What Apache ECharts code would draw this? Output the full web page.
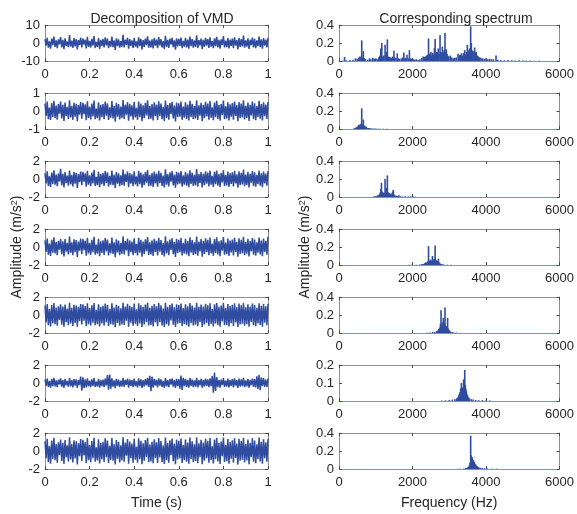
<!DOCTYPE html>
<html>
<head>
<meta charset="utf-8">
<title>VMD decomposition and spectra</title>
<script src="https://cdn.jsdelivr.net/npm/echarts@6/dist/echarts.min.js"></script>
<style>
  html, body { margin: 0; padding: 0; background: #ffffff; }
  #chart { width: 577px; height: 514px; }
</style>
</head>
<body>
<div id="chart"></div>
<script>
// ---- Time-domain samples (1 s record, 201 samples) ----
const sampleCount = 201;
const timeStamps = Array.from({ length: sampleCount }, (_, i) => i / (sampleCount - 1));

const signalRaw = [
  2.1,-1.4,2.9,-2.6,0.9,-3.1,2.4,-1.2,3.6,-2.2,1.5,-2.8,2.0,-0.7,3.3,-2.5,1.8,-3.4,2.6,-1.6,
  0.8,-2.3,4.4,-2.0,1.3,-2.7,2.8,-1.9,2.2,-3.6,1.6,-1.1,3.0,-2.4,2.5,-0.9,1.9,-3.0,3.4,-2.1,
  1.2,-2.6,2.3,-1.5,3.9,-2.8,0.6,-2.2,2.7,-3.3,1.7,-1.8,2.1,-2.5,3.2,-1.3,2.4,-2.9,1.0,-2.0,
  3.5,-2.3,1.4,-3.8,2.6,-1.7,2.0,-2.6,1.1,-2.1,4.6,-2.4,1.8,-1.0,2.9,-3.2,2.2,-1.6,1.5,-2.7,
  2.8,-2.0,0.9,-2.9,3.1,-1.8,2.3,-3.5,1.6,-2.2,2.5,-1.2,3.7,-2.6,1.3,-2.4,2.0,-3.0,2.7,-1.5,
  1.9,-2.8,3.3,-1.4,2.2,-2.5,1.1,-3.3,4.0,-2.1,1.7,-2.7,2.4,-0.8,2.9,-2.3,1.5,-3.7,2.6,-1.9,
  2.3,-1.6,3.0,-2.9,1.2,-2.0,2.8,-2.4,1.9,-3.1,3.6,-1.7,2.1,-2.6,1.4,-2.2,4.3,-2.8,1.6,-1.3,
  2.5,-3.4,1.8,-2.1,2.9,-1.5,2.2,-2.7,3.2,-2.0,1.0,-2.9,2.6,-1.8,3.4,-2.4,1.7,-3.2,2.0,-1.1,
  3.8,-2.5,1.3,-2.3,2.7,-3.0,1.9,-1.6,2.4,-2.8,3.1,-1.4,1.6,-3.5,2.8,-2.2,2.1,-1.9,4.1,-2.6,
  1.5,-2.0,2.6,-3.3,1.8,-1.2,3.0,-2.5,2.3,-2.9,1.4,-1.7,3.5,-2.3,2.0,-3.1,2.7,-1.5,1.9,-2.4,
  2.9
];
const imf1 = [
  0.41,-0.28,0.52,-0.46,0.19,-0.50,0.44,-0.33,0.57,-0.39,0.30,-0.48,0.38,-0.15,0.53,-0.42,0.35,-0.55,0.47,-0.27,
  0.22,-0.44,0.60,-0.36,0.29,-0.49,0.45,-0.31,0.40,-0.56,0.33,-0.21,0.50,-0.43,0.46,-0.18,0.37,-0.51,0.54,-0.38,
  0.25,-0.47,0.42,-0.30,0.58,-0.45,0.14,-0.40,0.48,-0.53,0.34,-0.35,0.39,-0.46,0.52,-0.26,0.43,-0.50,0.21,-0.37,
  0.55,-0.41,0.28,-0.59,0.46,-0.32,0.38,-0.47,0.24,-0.39,0.61,-0.44,0.35,-0.20,0.49,-0.54,0.40,-0.30,0.31,-0.48,
  0.50,-0.36,0.18,-0.49,0.53,-0.34,0.42,-0.57,0.32,-0.40,0.45,-0.25,0.59,-0.46,0.27,-0.43,0.39,-0.52,0.48,-0.29,
  0.36,-0.50,0.54,-0.27,0.41,-0.45,0.23,-0.55,0.58,-0.38,0.33,-0.48,0.44,-0.17,0.51,-0.42,0.30,-0.58,0.47,-0.35,
  0.43,-0.31,0.52,-0.49,0.24,-0.37,0.48,-0.44,0.36,-0.53,0.57,-0.33,0.40,-0.46,0.28,-0.41,0.60,-0.50,0.32,-0.26,
  0.46,-0.56,0.35,-0.40,0.51,-0.30,0.42,-0.48,0.55,-0.37,0.20,-0.51,0.47,-0.34,0.56,-0.44,0.33,-0.54,0.39,-0.22,
  0.58,-0.45,0.26,-0.42,0.49,-0.52,0.37,-0.32,0.44,-0.49,0.53,-0.28,0.31,-0.57,0.50,-0.40,0.41,-0.36,0.59,-0.47,
  0.29,-0.39,0.47,-0.55,0.34,-0.24,0.52,-0.45,0.43,-0.51,0.27,-0.33,0.56,-0.43,0.38,-0.53,0.48,-0.29,0.36,-0.44,
  0.50
];
const imf2 = [
  0.66,-0.48,0.85,-0.77,0.31,-0.88,0.72,-0.55,0.97,-0.63,0.49,-0.81,0.60,-0.26,1.12,-0.71,0.57,-0.93,0.78,-0.45,
  0.38,-0.74,0.95,-0.59,0.47,-0.82,0.76,-0.52,0.68,-1.00,0.54,-0.35,0.83,-0.70,0.79,-0.30,0.62,-0.86,0.91,-0.64,
  0.42,-0.79,0.70,-0.50,1.02,-0.76,0.24,-0.67,0.81,-0.90,0.56,-0.58,0.65,-0.78,0.89,-0.44,0.73,-0.84,0.36,-0.62,
  0.94,-0.69,0.46,-0.99,0.77,-0.53,0.63,-0.80,0.40,-0.66,1.05,-0.75,0.58,-0.33,0.84,-0.92,0.67,-0.51,0.52,-0.81,
  0.86,-0.61,0.30,-0.83,0.90,-0.57,0.71,-0.96,0.53,-0.68,0.76,-0.42,0.99,-0.79,0.45,-0.73,0.65,-0.88,0.82,-0.49,
  0.61,-0.85,0.92,-0.46,0.69,-0.77,0.39,-0.94,1.08,-0.64,0.55,-0.82,0.74,-0.29,0.87,-0.71,0.50,-0.98,0.80,-0.59,
  0.72,-0.52,0.88,-0.84,0.41,-0.63,0.81,-0.75,0.60,-0.90,0.96,-0.56,0.68,-0.78,0.47,-0.70,1.10,-0.85,0.54,-0.44,
  0.78,-0.95,0.59,-0.68,0.86,-0.51,0.71,-0.82,0.93,-0.62,0.34,-0.87,0.79,-0.58,0.95,-0.74,0.56,-0.91,0.66,-0.37,
  0.98,-0.76,0.44,-0.72,0.83,-0.89,0.63,-0.54,0.75,-0.83,0.90,-0.48,0.52,-0.97,0.85,-0.68,0.70,-0.61,1.04,-0.80,
  0.49,-0.66,0.80,-0.93,0.58,-0.41,0.88,-0.76,0.73,-0.86,0.46,-0.56,0.94,-0.73,0.64,-0.90,0.82,-0.50,0.61,-0.75,
  0.87
];
const imf3 = [
  0.74,-0.56,0.95,-0.86,0.38,-0.99,0.81,-0.62,1.08,-0.71,0.55,-0.91,0.68,-0.30,0.88,-0.80,0.64,-1.05,0.87,-0.51,
  0.43,-0.83,1.15,-0.66,0.53,-0.92,0.85,-0.58,0.76,-1.10,0.61,-0.40,0.93,-0.78,0.89,-0.34,0.70,-0.97,1.02,-0.72,
  0.47,-0.88,0.79,-0.57,1.12,-0.85,0.28,-0.75,0.91,-1.01,0.63,-0.65,0.73,-0.87,1.00,-0.50,0.82,-0.94,0.41,-0.70,
  1.06,-0.78,0.52,-1.13,0.86,-0.60,0.71,-0.90,0.45,-0.74,1.18,-0.84,0.65,-0.37,0.94,-1.03,0.75,-0.58,0.59,-0.91,
  0.97,-0.69,0.34,-0.93,1.01,-0.64,0.80,-1.08,0.60,-0.76,0.85,-0.47,1.11,-0.89,0.51,-0.82,0.73,-0.99,0.92,-0.55,
  0.69,-0.95,1.03,-0.52,0.78,-0.87,0.44,-1.06,1.20,-0.72,0.62,-0.92,0.83,-0.33,0.98,-0.80,0.56,-1.10,0.90,-0.66,
  0.81,-0.59,0.99,-0.94,0.46,-0.71,0.91,-0.84,0.67,-1.01,1.08,-0.63,0.77,-0.88,0.53,-0.79,1.16,-0.96,0.61,-0.49,
  0.88,-1.07,0.66,-0.77,0.97,-0.57,0.80,-0.92,1.04,-0.70,0.38,-0.98,0.89,-0.65,1.07,-0.83,0.63,-1.02,0.74,-0.42,
  1.10,-0.86,0.50,-0.81,0.94,-1.00,0.71,-0.61,0.84,-0.94,1.01,-0.54,0.58,-1.09,0.96,-0.77,0.79,-0.69,1.14,-0.90,
  0.55,-0.74,0.90,-1.05,0.65,-0.46,0.99,-0.86,0.82,-0.97,0.52,-0.63,1.06,-0.82,0.72,-1.01,0.93,-0.56,0.69,-0.85,
  1.15
];
const imf4 = [
  1.05,-0.82,1.22,-1.14,0.66,-1.28,1.10,-0.90,1.33,-1.01,0.84,-1.20,0.97,-0.55,1.18,-1.09,0.93,-1.30,1.15,-0.79,
  0.72,-1.12,1.36,-0.95,0.81,-1.21,1.13,-0.87,1.04,-1.31,0.91,-0.68,1.23,-1.06,1.19,-0.62,0.99,-1.25,1.29,-1.02,
  0.76,-1.16,1.08,-0.85,1.34,-1.13,0.58,-1.03,1.20,-1.27,0.92,-0.94,1.02,-1.15,1.28,-0.80,1.11,-1.23,0.70,-0.99,
  1.31,-1.07,0.83,-1.35,1.14,-0.89,1.00,-1.18,0.74,-1.04,1.37,-1.12,0.95,-0.64,1.24,-1.29,1.03,-0.86,0.88,-1.19,
  1.26,-0.98,0.63,-1.22,1.30,-0.93,1.09,-1.33,0.90,-1.05,1.16,-0.77,1.35,-1.17,0.80,-1.10,1.01,-1.26,1.21,-0.84,
  0.98,-1.24,1.32,-0.81,1.07,-1.15,0.73,-1.32,1.36,-1.01,0.91,-1.20,1.12,-0.61,1.27,-1.08,0.86,-1.34,1.19,-0.96,
  1.10,-0.88,1.28,-1.22,0.77,-1.00,1.20,-1.13,0.97,-1.29,1.33,-0.92,1.06,-1.16,0.82,-1.07,1.35,-1.25,0.90,-0.78,
  1.17,-1.32,0.95,-1.06,1.25,-0.87,1.09,-1.21,1.31,-1.00,0.67,-1.27,1.18,-0.94,1.34,-1.12,0.92,-1.30,1.04,-0.73,
  1.36,-1.14,0.79,-1.10,1.23,-1.28,1.00,-0.90,1.13,-1.23,1.29,-0.83,0.87,-1.34,1.26,-1.05,1.08,-0.97,1.32,-1.18,
  0.85,-1.03,1.19,-1.31,0.94,-0.76,1.27,-1.14,1.11,-1.25,0.81,-0.93,1.30,-1.11,1.01,-1.29,1.22,-0.85,0.97,-1.13,
  1.24
];
const imf5 = [
  0.40,-0.31,0.49,-0.44,0.20,-0.52,0.43,-0.35,0.56,-0.38,0.29,-0.47,0.36,-0.16,0.51,-0.41,0.33,-0.53,0.45,-0.27,
  0.24,-0.42,0.58,-0.37,0.31,-0.48,0.44,-0.30,0.39,-0.55,0.35,-0.22,0.72,-0.86,0.64,-0.58,0.41,-0.50,0.52,-0.36,
  0.26,-0.46,0.41,-0.32,0.55,-0.44,0.15,-0.39,0.47,-0.51,0.33,-0.34,0.38,-0.45,0.50,-0.28,0.88,-0.74,0.95,-0.62,
  0.52,-0.40,0.30,-0.56,0.45,-0.33,0.37,-0.46,0.25,-0.38,0.57,-0.43,0.34,-0.21,0.48,-0.52,0.39,-0.31,0.32,-0.47,
  0.49,-0.35,0.19,-0.48,0.51,-0.36,0.41,-0.54,0.33,-0.39,0.44,-0.26,0.56,-0.45,0.80,-0.92,0.70,-0.51,0.47,-0.30,
  0.35,-0.49,0.52,-0.28,0.40,-0.44,0.24,-0.53,0.55,-0.37,0.32,-0.47,0.43,-0.18,0.50,-0.41,0.31,-0.55,0.46,-0.34,
  0.42,-0.62,0.84,-0.78,0.58,-0.36,0.47,-0.43,0.35,-0.51,0.54,-0.32,0.39,-0.45,0.29,-0.40,0.57,-0.49,0.33,-0.27,
  0.45,-0.53,0.36,-0.39,0.50,-0.31,0.41,-0.47,0.52,-0.36,0.78,-1.08,1.15,-0.88,0.66,-0.43,0.34,-0.52,0.38,-0.23,
  0.55,-0.44,0.27,-0.41,0.48,-0.50,0.36,-0.33,0.43,-0.48,0.51,-0.29,0.32,-0.54,0.49,-0.39,0.40,-0.35,0.56,-0.46,
  0.30,-0.38,0.46,-0.52,0.35,-0.25,0.50,-0.44,0.42,-0.49,0.74,-0.66,0.92,-0.81,0.60,-0.32,0.54,-0.42,0.37,-0.43,
  0.48
];
const imf6 = [
  1.08,-0.80,1.36,-1.22,0.55,-1.41,1.15,-0.88,1.48,-1.02,0.78,-1.30,0.96,-0.45,1.27,-1.12,0.91,-1.45,1.21,-0.72,
  0.62,-1.17,1.52,-0.93,0.76,-1.28,1.20,-0.83,1.09,-1.50,0.87,-0.57,1.33,-1.10,1.25,-0.50,0.99,-1.35,1.43,-1.03,
  0.67,-1.24,1.11,-0.79,1.46,-1.20,0.40,-1.06,1.29,-1.38,0.89,-0.92,1.03,-1.23,1.40,-0.70,1.16,-1.33,0.58,-0.98,
  1.44,-1.09,0.74,-1.49,1.22,-0.85,1.01,-1.27,0.64,-1.05,1.53,-1.19,0.93,-0.52,1.34,-1.42,1.06,-0.81,0.84,-1.29,
  1.37,-0.97,0.48,-1.31,1.42,-0.90,1.13,-1.46,0.85,-1.07,1.21,-0.66,1.47,-1.25,0.72,-1.16,1.02,-1.36,1.30,-0.77,
  0.97,-1.34,1.45,-0.73,1.10,-1.22,0.62,-1.44,1.50,-1.01,0.88,-1.30,1.18,-0.47,1.38,-1.13,0.80,-1.47,1.26,-0.94,
  1.14,-0.83,1.39,-1.33,0.65,-1.00,1.28,-1.19,0.95,-1.41,1.49,-0.89,1.08,-1.24,0.75,-1.11,1.51,-1.37,0.86,-0.69,
  1.24,-1.48,0.94,-1.08,1.36,-0.80,1.12,-1.30,1.45,-0.99,0.53,-1.39,1.26,-0.92,1.48,-1.17,0.89,-1.43,1.05,-0.59,
  1.50,-1.21,0.70,-1.14,1.32,-1.40,1.00,-0.86,1.19,-1.31,1.41,-0.76,0.82,-1.51,1.35,-1.07,1.12,-0.97,1.46,-1.26,
  0.78,-1.04,1.27,-1.46,0.92,-0.65,1.40,-1.20,1.16,-1.36,0.74,-0.88,1.49,-1.16,1.01,-1.42,1.30,-0.79,0.96,-1.19,
  1.33
];

// ---- Amplitude spectra: [frequency (Hz), amplitude (m/s^2)] ----
const specRaw = [
  [100,0.005],[152,0.046],[200,0.008],[300,0.01],[380,0.015],[448,0.03],[500,0.025],[540,0.04],
  [570,0.05],[600,0.045],[618,0.23],[640,0.04],[663,0.11],[690,0.03],[720,0.02],[780,0.015],
  [830,0.03],[870,0.02],[920,0.035],[960,0.025],[1000,0.03],[1040,0.02],[1080,0.04],[1110,0.06],
  [1137,0.14],[1150,0.07],[1164,0.2],[1190,0.05],[1220,0.06],[1254,0.18],[1275,0.07],[1295,0.1],
  [1316,0.24],[1340,0.05],[1370,0.045],[1400,0.04],[1430,0.035],[1460,0.05],[1495,0.115],[1520,0.04],
  [1550,0.03],[1585,0.085],[1610,0.03],[1650,0.025],[1700,0.03],[1735,0.04],[1764,0.095],[1790,0.03],
  [1820,0.035],[1850,0.07],[1880,0.03],[1916,0.12],[1940,0.03],[1980,0.025],[2020,0.02],[2060,0.015],
  [2100,0.02],[2150,0.015],[2200,0.02],[2250,0.035],[2290,0.05],[2320,0.045],[2350,0.05],[2380,0.06],
  [2410,0.07],[2436,0.25],[2455,0.07],[2475,0.08],[2500,0.1],[2520,0.06],[2545,0.09],[2570,0.07],
  [2595,0.14],[2615,0.245],[2635,0.08],[2660,0.1],[2680,0.09],[2700,0.14],[2720,0.08],[2749,0.285],
  [2770,0.1],[2790,0.09],[2812,0.16],[2835,0.1],[2860,0.12],[2884,0.31],[2900,0.09],[2920,0.13],
  [2940,0.08],[2960,0.06],[2990,0.05],[3030,0.06],[3070,0.04],[3110,0.03],[3150,0.035],[3190,0.04],
  [3240,0.08],[3270,0.06],[3300,0.07],[3330,0.085],[3360,0.06],[3390,0.09],[3420,0.12],[3445,0.07],
  [3470,0.1],[3492,0.18],[3515,0.09],[3535,0.12],[3555,0.14],[3582,0.385],[3600,0.2],[3620,0.12],
  [3645,0.11],[3670,0.1],[3690,0.15],[3710,0.09],[3735,0.1],[3760,0.06],[3790,0.05],[3820,0.04],
  [3860,0.035],[3900,0.03],[3950,0.025],[4000,0.03],[4050,0.02],[4100,0.025],[4150,0.02],[4200,0.02],
  [4272,0.06],[4320,0.015],[4400,0.01],[4500,0.008],[4600,0.01],[4700,0.008],[4800,0.006],[4900,0.008],
  [5000,0.006],[5100,0.005],[5200,0.006],[5300,0.004],[5450,0.004]
];
const specImf1 = [
  [420,0.01],[450,0.015],[480,0.02],[500,0.025],[520,0.03],[540,0.045],[555,0.035],[570,0.05],
  [585,0.04],[600,0.055],[610,0.06],[618,0.23],[630,0.05],[645,0.045],[663,0.105],[675,0.04],
  [690,0.03],[705,0.035],[720,0.02],[740,0.025],[760,0.015],[790,0.012],[820,0.01],[860,0.008],
  [900,0.006],[950,0.006],[1000,0.005],[1060,0.004],[1120,0.004],[1200,0.003],[1300,0.003]
];
const specImf2 = [
  [950,0.008],[1000,0.01],[1040,0.015],[1070,0.02],[1100,0.03],[1120,0.05],[1140,0.09],[1155,0.157],
  [1170,0.06],[1190,0.045],[1210,0.05],[1230,0.04],[1254,0.2],[1270,0.05],[1285,0.1],[1300,0.06],
  [1316,0.24],[1330,0.055],[1350,0.04],[1370,0.045],[1390,0.03],[1410,0.035],[1430,0.03],[1450,0.05],
  [1465,0.06],[1478,0.078],[1495,0.03],[1520,0.02],[1560,0.015],[1600,0.012],[1630,0.02],[1680,0.008],
  [1740,0.006],[1800,0.008],[1880,0.005],[1950,0.006],[2006,0.012],[2080,0.004]
];
const specImf3 = [
  [1900,0.003],[1990,0.006],[2100,0.004],[2200,0.006],[2257,0.01],[2300,0.012],[2330,0.02],[2360,0.03],
  [2385,0.025],[2410,0.04],[2436,0.21],[2455,0.05],[2475,0.04],[2495,0.06],[2515,0.05],[2543,0.1],
  [2560,0.06],[2580,0.05],[2600,0.07],[2615,0.218],[2630,0.06],[2650,0.05],[2670,0.045],[2690,0.04],
  [2704,0.07],[2720,0.03],[2745,0.02],[2770,0.012],[2800,0.01],[2850,0.006],[2950,0.004],[3050,0.003]
];
const specImf4 = [
  [2400,0.004],[2480,0.006],[2550,0.01],[2600,0.012],[2650,0.02],[2690,0.03],[2715,0.045],[2740,0.06],
  [2760,0.1],[2776,0.253],[2790,0.07],[2805,0.12],[2820,0.08],[2839,0.17],[2855,0.09],[2870,0.11],
  [2884,0.284],[2900,0.08],[2915,0.06],[2930,0.075],[2955,0.167],[2970,0.05],[2990,0.035],[3010,0.02],
  [3040,0.015],[3080,0.01],[3130,0.006],[3200,0.004]
];
const specImf5 = [
  [2800,0.003],[2900,0.004],[3000,0.006],[3080,0.008],[3150,0.01],[3200,0.015],[3230,0.02],[3255,0.03],
  [3275,0.04],[3295,0.05],[3310,0.07],[3330,0.1],[3345,0.06],[3360,0.075],[3375,0.065],[3390,0.12],
  [3405,0.08],[3421,0.173],[3435,0.09],[3450,0.07],[3465,0.055],[3480,0.04],[3500,0.03],[3520,0.02],
  [3550,0.015],[3600,0.01],[3650,0.008],[3720,0.006],[3800,0.005],[3900,0.006],[4000,0.004],[4100,0.003]
];
const specImf6 = [
  [3300,0.004],[3400,0.006],[3450,0.01],[3490,0.015],[3520,0.025],[3545,0.04],[3565,0.07],[3582,0.37],
  [3598,0.15],[3612,0.11],[3625,0.13],[3640,0.09],[3655,0.1],[3670,0.07],[3685,0.08],[3700,0.055],
  [3720,0.05],[3740,0.035],[3760,0.03],[3785,0.02],[3810,0.018],[3850,0.012],[3900,0.01],[3960,0.007],
  [4030,0.005],[4150,0.004],[4300,0.003]
];

// ---- Axis ranges per row: [min, max, interval] ----
const timeRanges = [[-10,10,10],[-1,1,1],[-2,2,2],[-2,2,2],[-2,2,2],[-2,2,2],[-2,2,2]];
const specRanges = [[0,0.4,0.2],[0,0.4,0.2],[0,0.4,0.2],[0,0.4,0.2],[0,0.4,0.2],[0,0.2,0.1],[0,0.4,0.2]];
const timeTicks = [0, 1, 0.2];
const freqTicks = [0, 6000, 2000];

const timeSignals = [signalRaw, imf1, imf2, imf3, imf4, imf5, imf6];
const spectra = [specRaw, specImf1, specImf2, specImf3, specImf4, specImf5, specImf6];

// ---- Layout & style ----
const LINE_COLOR = '#2f4ca0';
const BOX_COLOR = '#8f8f8f';
const TICK_COLOR = '#4a4a4a';
const TEXT_COLOR = '#262626';
const FONT = 'Liberation Sans, Arial, Helvetica, sans-serif';
const FS = 13;
const TOP0 = 25, ROW_STEP = 68, ROW_H = 36;
const COLS = [{ left: 45, width: 223 }, { left: 339, width: 224 }];

const grid = [], xAxis = [], yAxis = [], series = [];

function addPanel(col, row, xr, yr, isSpectrum) {
  const gi = grid.length;
  grid.push({ left: COLS[col].left, width: COLS[col].width, top: TOP0 + row * ROW_STEP, height: ROW_H });
  const tick = { show: true, inside: true, length: 3, lineStyle: { color: TICK_COLOR, width: 1 } };
  const lastRow = row === 6;
  const xi = xAxis.length;
  xAxis.push({
    type: 'value', gridIndex: gi, position: 'bottom', min: xr[0], max: xr[1], interval: xr[2],
    axisLine: { show: true, onZero: false, lineStyle: { color: isSpectrum ? '#7e90cc' : BOX_COLOR, width: 1 } },
    axisTick: tick,
    axisLabel: { color: TEXT_COLOR, fontSize: FS, fontFamily: FONT, margin: 7, hideOverlap: false,
                 formatter: v => String(v) },
    splitLine: { show: false },
    name: lastRow ? (isSpectrum ? 'Frequency (Hz)' : 'Time (s)') : '',
    nameLocation: 'middle', nameGap: 27,
    nameTextStyle: { color: TEXT_COLOR, fontSize: FS + 1, fontFamily: FONT }
  });
  xAxis.push({
    type: 'value', gridIndex: gi, position: 'top', min: xr[0], max: xr[1], interval: xr[2],
    axisLine: { show: true, onZero: false, lineStyle: { color: BOX_COLOR, width: 1 } },
    axisTick: tick, axisLabel: { show: false }, splitLine: { show: false }
  });
  const yi = yAxis.length;
  yAxis.push({
    type: 'value', gridIndex: gi, position: 'left', min: yr[0], max: yr[1], interval: yr[2],
    axisLine: { show: true, onZero: false, lineStyle: { color: BOX_COLOR, width: 1 } },
    axisTick: tick,
    axisLabel: { color: TEXT_COLOR, fontSize: FS, fontFamily: FONT, margin: 5 },
    splitLine: { show: false },
    name: row === 3 ? 'Amplitude (m/s{sup|2})' : '',
    nameLocation: 'middle', nameRotate: 90, nameGap: isSpectrum ? 25 : 20,
    nameTextStyle: {
      color: TEXT_COLOR, fontSize: FS + 1, fontFamily: FONT,
      rich: { sup: { fontSize: 9, fontFamily: FONT, color: TEXT_COLOR, verticalAlign: 'top', padding: [0, 0, 6, 0] } }
    }
  });
  yAxis.push({
    type: 'value', gridIndex: gi, position: 'right', min: yr[0], max: yr[1], interval: yr[2],
    axisLine: { show: true, onZero: false, lineStyle: { color: BOX_COLOR, width: 1 } },
    axisTick: tick, axisLabel: { show: false }, splitLine: { show: false }
  });
  return { xi, yi };
}

for (let r = 0; r < 7; r++) {
  const left = addPanel(0, r, timeTicks, timeRanges[r], false);
  series.push({
    type: 'line', xAxisIndex: left.xi, yAxisIndex: left.yi,
    data: timeSignals[r].map((v, i) => [timeStamps[i], v]),
    showSymbol: false, symbol: 'none', clip: true,
    lineStyle: { color: LINE_COLOR, width: 1.5 }
  });
  const right = addPanel(1, r, freqTicks, specRanges[r], true);
  series.push({
    type: 'bar', xAxisIndex: right.xi, yAxisIndex: right.yi,
    data: spectra[r], barWidth: 1.6, clip: true,
    itemStyle: { color: LINE_COLOR }
  });
}

const chart = echarts.init(document.getElementById('chart'), null, { renderer: 'canvas' });
chart.setOption({
  animation: false,
  backgroundColor: '#ffffff',
  textStyle: { fontFamily: FONT },
  title: [
    { text: 'Decomposition of VMD', left: 157, top: 7, textAlign: 'center',
      textStyle: { color: TEXT_COLOR, fontSize: FS + 1, fontWeight: 'normal', fontFamily: FONT } },
    { text: 'Corresponding spectrum', left: 451, top: 7, textAlign: 'center',
      textStyle: { color: TEXT_COLOR, fontSize: FS + 1, fontWeight: 'normal', fontFamily: FONT } }
  ],
  grid, xAxis, yAxis, series
});
</script>
</body>
</html>
